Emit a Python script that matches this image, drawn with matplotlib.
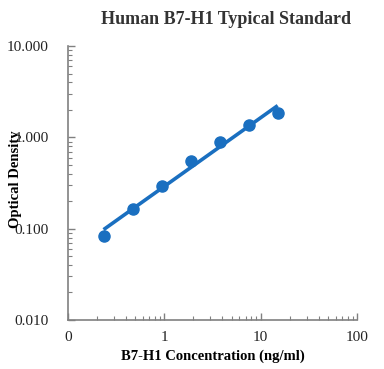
import numpy as np
import matplotlib.pyplot as plt
from matplotlib.ticker import FixedLocator, LogLocator, NullFormatter

plt.rcParams['font.family'] = ['Liberation Serif', 'DejaVu Serif']

# standard curve data
conc = [0.234, 0.469, 0.938, 1.875, 3.75, 7.5, 15.0]
od = [0.084, 0.163, 0.293, 0.546, 0.88, 1.37, 1.83]

x_ticks = [0.1, 1, 10, 100]
x_labels = ["0", "1", "10", "100"]
y_ticks = [0.01, 0.1, 1, 10]
y_labels = ["0.010", "0.100", "1.000", "10.000"]

blue = '#1a6fc0'
grey = '#808080'

# power trendline, fitted in log-log space
k, b = np.polyfit(np.log10(conc), np.log10(od), 1)
xf = np.array([conc[0], conc[-1]])
yf = 10 ** (k * np.log10(xf) + b)

fig = plt.figure(figsize=(3.84, 3.69), dpi=100)
ax = fig.add_axes([0.177, 0.133, 0.753, 0.742])

ax.plot(xf, yf, color=blue, lw=2.6, solid_capstyle='butt')
ax.plot(conc, od, 'o', color=blue, ms=8)

ax.set_xscale('log')
ax.set_yscale('log')
ax.set_xlim(0.1, 100)
ax.set_ylim(0.01, 10)

ax.xaxis.set_major_locator(FixedLocator(x_ticks))
ax.set_xticklabels(x_labels)
ax.yaxis.set_major_locator(FixedLocator(y_ticks))
ax.set_yticklabels(y_labels)
ax.xaxis.set_minor_locator(LogLocator(base=10, subs=np.arange(2, 10)))
ax.yaxis.set_minor_locator(LogLocator(base=10, subs=np.arange(2, 10)))
ax.xaxis.set_minor_formatter(NullFormatter())
ax.yaxis.set_minor_formatter(NullFormatter())

for s in ['top', 'right']:
    ax.spines[s].set_visible(False)
for s in ['left', 'bottom']:
    ax.spines[s].set_color(grey)
    ax.spines[s].set_linewidth(1.2)

ax.tick_params(which='major', direction='in', length=5, width=1, color=grey,
               labelsize=11, labelcolor='#222222')
ax.tick_params(which='minor', direction='in', length=3, width=0.8, color=grey)
ax.tick_params(axis='x', which='major', pad=8)
ax.tick_params(axis='y', which='major', pad=14)

ax.set_title('Human B7-H1 Typical Standard', fontsize=13, fontweight='bold',
             color='#333333', x=0.545, pad=16)
ax.set_xlabel('B7-H1 Concentration (ng/ml)', fontsize=10.5, fontweight='bold', labelpad=4)
# the y label sits over the tick labels, as in the source chart
ax.set_ylabel('Optical Density', fontsize=10.5, fontweight='bold')
ax.yaxis.set_label_coords(-0.16, 0.515)

fig.savefig('out.png', dpi=100)
